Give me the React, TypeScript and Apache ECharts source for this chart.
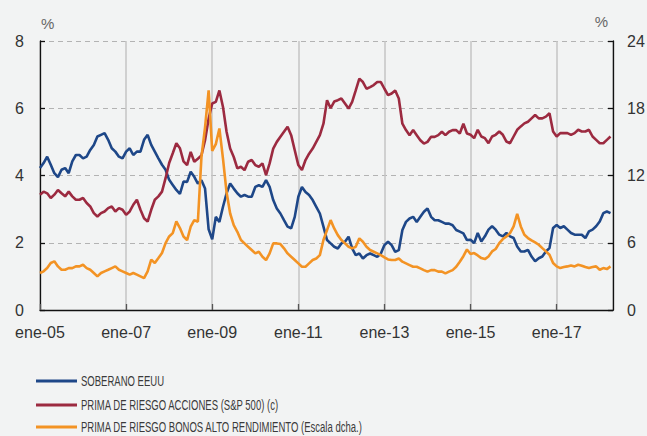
import { useEffect, useRef } from "react";
import * as echarts from "echarts";

// Monthly observations, January 2005 (index 0) to April 2018 (index 159)
const xTickLabels = ["ene-05", "ene-07", "ene-09", "ene-11", "ene-13", "ene-15", "ene-17"];
const leftTicks = [0, 2, 4, 6, 8];
const rightTicks = [0, 6, 12, 18, 24];

const seriesNames = [
  "SOBERANO EEUU",
  "PRIMA DE RIESGO ACCIONES (S&P 500) (c)",
  "PRIMA DE RIESGO BONOS ALTO RENDIMIENTO (Escala dcha.)",
];

// SOBERANO EEUU (left axis, %)
const soberano = [
  4.22, 4.37, 4.56, 4.32, 4.07, 3.95, 4.17, 4.22, 4.07, 4.42, 4.61, 4.61,
  4.51, 4.56, 4.76, 4.91, 5.16, 5.21, 5.26, 5.06, 4.81, 4.71, 4.56, 4.51,
  4.71, 4.81, 4.61, 4.71, 4.71, 5.06, 5.21, 4.91, 4.71, 4.51, 4.32, 4.17,
  3.87, 3.72, 3.57, 3.45, 3.82, 3.81, 4.11, 3.96, 3.76, 3.86, 3.61, 2.4,
  2.1, 2.77, 2.62, 3.07, 3.47, 3.76, 3.61, 3.47, 3.37, 3.42, 3.37, 3.37,
  3.66, 3.71, 3.66, 3.86, 3.66, 3.27, 3.02, 2.87, 2.67, 2.48, 2.43, 2.77,
  3.37, 3.66, 3.51, 3.42, 3.27, 3.07, 2.87, 2.48, 2.08, 1.98, 1.88, 1.83,
  1.98, 2.03, 2.18, 1.83, 1.63, 1.68, 1.53, 1.63, 1.68, 1.63, 1.58, 1.68,
  1.93, 2.03, 1.93, 1.73, 1.78, 2.38, 2.62, 2.72, 2.77, 2.62, 2.77, 2.92,
  3.02, 2.77, 2.67, 2.67, 2.62, 2.57, 2.57, 2.52, 2.38, 2.33, 2.28, 2.08,
  2.09, 1.99, 2.29, 2.04, 2.19, 2.39, 2.49, 2.39, 2.24, 2.19, 2.29, 2.19,
  2.14, 1.89, 1.74, 1.74, 1.79, 1.59, 1.45, 1.54, 1.59, 1.74, 1.84, 2.44,
  2.53, 2.44, 2.49, 2.39, 2.29, 2.24, 2.24, 2.24, 2.14, 2.34, 2.39, 2.49,
  2.63, 2.88, 2.93, 2.88,
];

// PRIMA DE RIESGO ACCIONES (left axis, %)
const acciones = [
  3.43, 3.52, 3.47, 3.33, 3.43, 3.57, 3.47, 3.38, 3.52, 3.38, 3.28, 3.28,
  3.33, 3.18, 3.08, 2.88, 2.78, 2.88, 2.93, 3.03, 3.08, 2.93, 3.03, 2.98,
  2.83, 2.93, 3.13, 3.28, 2.98, 2.73, 2.63, 2.98, 3.28, 3.38, 3.52, 3.92,
  4.37, 4.66, 4.96, 4.81, 4.42, 4.31, 4.7, 4.41, 4.5, 4.6, 5.05, 5.69,
  6.14, 6.19, 6.53, 6.04, 5.3, 4.8, 4.55, 4.21, 4.26, 4.16, 4.41, 4.46,
  4.31, 4.26, 4.36, 4.01, 4.36, 4.8, 5.0, 5.15, 5.3, 5.45, 5.2, 4.75,
  4.31, 4.16, 4.46, 4.65, 4.8, 5.0, 5.2, 5.54, 6.24, 6.0, 6.2, 6.24,
  6.29, 6.14, 5.99, 6.19, 6.53, 6.88, 6.78, 6.58, 6.63, 6.69, 6.78, 6.78,
  6.58, 6.39, 6.44, 6.53, 6.29, 5.54, 5.35, 5.2, 5.35, 5.2, 5.05, 4.95,
  5.0, 5.15, 5.15, 5.2, 5.3, 5.2, 5.3, 5.35, 5.35, 5.25, 5.54, 5.25,
  5.21, 5.11, 5.36, 5.16, 5.11, 4.96, 5.16, 5.21, 5.31, 5.21, 5.01, 4.96,
  5.16, 5.36, 5.46, 5.55, 5.6, 5.7, 5.8, 5.7, 5.7, 5.75, 5.85, 5.31,
  5.16, 5.26, 5.26, 5.26, 5.21, 5.26, 5.36, 5.31, 5.31, 5.36, 5.16, 5.06,
  4.96, 4.96, 5.06, 5.16,
];

// PRIMA DE RIESGO BONOS ALTO RENDIMIENTO (right axis, %)
const altoRendimiento = [
  3.3, 3.45, 3.74, 4.19, 4.34, 3.89, 3.59, 3.59, 3.74, 3.74, 3.89, 3.89,
  4.04, 3.74, 3.59, 3.3, 3.0, 3.3, 3.45, 3.59, 3.74, 3.89, 3.59, 3.45,
  3.3, 3.15, 3.3, 3.15, 3.0, 2.85, 3.45, 4.49, 4.19, 4.63, 5.08, 5.97,
  6.56, 6.86, 7.9, 7.31, 6.56, 6.24, 7.43, 8.02, 7.87, 13.66, 16.3, 19.6,
  14.2, 14.8, 16.2, 13.5, 10.5, 8.61, 7.57, 6.98, 6.24, 5.94, 5.64, 5.35,
  5.05, 5.2, 4.75, 4.46, 5.05, 5.94, 5.94, 5.88, 5.5, 5.05, 4.75, 4.46,
  4.16, 3.86, 3.86, 4.16, 4.46, 4.6, 4.9, 6.24, 7.13, 8.02, 7.28, 6.68,
  6.24, 5.94, 5.64, 5.5, 5.64, 6.39, 6.09, 5.64, 5.35, 5.2, 5.05, 4.9,
  4.69, 4.51, 4.46, 4.46, 4.6, 4.31, 4.16, 4.01, 3.86, 3.86, 3.71, 3.56,
  3.42, 3.56, 3.56, 3.42, 3.42, 3.27, 3.42, 3.56, 3.86, 4.31, 4.8, 5.4,
  5.0, 5.08, 4.87, 4.63, 4.54, 4.78, 5.23, 5.44, 5.97, 6.33, 6.56, 6.86,
  7.46, 8.58, 7.46, 6.71, 6.42, 6.21, 6.03, 5.82, 5.52, 5.23, 4.93, 4.19,
  3.89, 3.74, 3.83, 3.89, 3.98, 3.89, 4.04, 3.95, 3.83, 3.74, 3.83, 3.89,
  3.59, 3.74, 3.65, 3.89,
];

const colors = ["#1e4788", "#9c2a40", "#f39324"];
const FONT = "'Liberation Sans', Arial, Helvetica, sans-serif";

export default function App() {
  const ref = useRef<HTMLDivElement>(null);

  useEffect(() => {
    document.body.style.margin = "0";
    if (!ref.current) return;
    const chart = echarts.init(ref.current, null, { renderer: "svg" });

    const toPairs = (arr: number[]) => arr.map((v, i) => [i, v]);

    const legendRows = [381, 405, 427];
    const legendGraphics: any[] = [];
    seriesNames.forEach((name, i) => {
      legendGraphics.push({
        type: "rect",
        shape: { x: 36, y: legendRows[i] - 1.5, width: 41, height: 3 },
        style: { fill: colors[i] },
      });
      legendGraphics.push({
        type: "text",
        x: 81,
        y: legendRows[i],
        scaleX: 0.68,
        style: {
          text: name,
          font: `14px ${FONT}`,
          fill: "#3a3a3a",
          verticalAlign: "middle",
          align: "left",
        },
      });
    });

    chart.setOption({
      animation: false,
      backgroundColor: "#f2f3f3",
      grid: {
        left: 40,
        right: 34,
        top: 41,
        bottom: 126,
        containLabel: false,
        outerBoundsMode: "none",
      },
      xAxis: {
        type: "value",
        min: 0,
        max: 159.7,
        interval: 24,
        axisLine: { show: true, onZero: false, lineStyle: { color: "#111", width: 1.3 } },
        axisTick: { show: true, inside: true, length: 6, lineStyle: { color: "#555", width: 1.3 } },
        axisLabel: {
          fontSize: 16,
          color: "#333",
          fontFamily: FONT,
          margin: 14,
          showMaxLabel: false,
          formatter: (v: number) => (v % 24 === 0 ? xTickLabels[v / 24] ?? "" : ""),
        },
        splitLine: { show: true, lineStyle: { color: "#c4c4c4", width: 1.5 } },
      },
      yAxis: [
        {
          type: "value",
          position: "left",
          min: leftTicks[0],
          max: leftTicks[leftTicks.length - 1],
          interval: 2,
          axisLine: { show: true, lineStyle: { color: "#111", width: 1.3 } },
          axisTick: { show: true, inside: true, length: 5, lineStyle: { color: "#111", width: 1.3 } },
          axisLabel: { fontSize: 16, color: "#333", fontFamily: FONT, margin: 16 },
          splitLine: { show: true, lineStyle: { color: "#b3b3b3", width: 1.2, type: [5, 4] } },
        },
        {
          type: "value",
          position: "right",
          min: rightTicks[0],
          max: rightTicks[rightTicks.length - 1],
          interval: 6,
          axisLine: { show: true, lineStyle: { color: "#111", width: 1.3 } },
          axisTick: { show: true, inside: true, length: 5, lineStyle: { color: "#111", width: 1.3 } },
          axisLabel: { fontSize: 16, color: "#333", fontFamily: FONT, margin: 14 },
          splitLine: { show: false },
        },
      ],
      series: [
        {
          name: seriesNames[0],
          type: "line",
          yAxisIndex: 0,
          data: toPairs(soberano),
          showSymbol: false,
          lineStyle: { color: colors[0], width: 2.6 },
          itemStyle: { color: colors[0] },
        },
        {
          name: seriesNames[1],
          type: "line",
          yAxisIndex: 0,
          data: toPairs(acciones),
          showSymbol: false,
          lineStyle: { color: colors[1], width: 2.6 },
          itemStyle: { color: colors[1] },
        },
        {
          name: seriesNames[2],
          type: "line",
          yAxisIndex: 1,
          data: toPairs(altoRendimiento),
          showSymbol: false,
          lineStyle: { color: colors[2], width: 2.6 },
          itemStyle: { color: colors[2] },
        },
      ],
      graphic: [
        {
          type: "text",
          x: 41,
          y: 23,
          style: { text: "%", font: `15px ${FONT}`, fill: "#666", verticalAlign: "middle", align: "left" },
        },
        {
          type: "text",
          x: 608,
          y: 21,
          style: { text: "%", font: `15px ${FONT}`, fill: "#666", verticalAlign: "middle", align: "right" },
        },
        ...legendGraphics,
      ],
    });

    return () => chart.dispose();
  }, []);

  return <div ref={ref} style={{ width: 647, height: 436 }} />;
}
